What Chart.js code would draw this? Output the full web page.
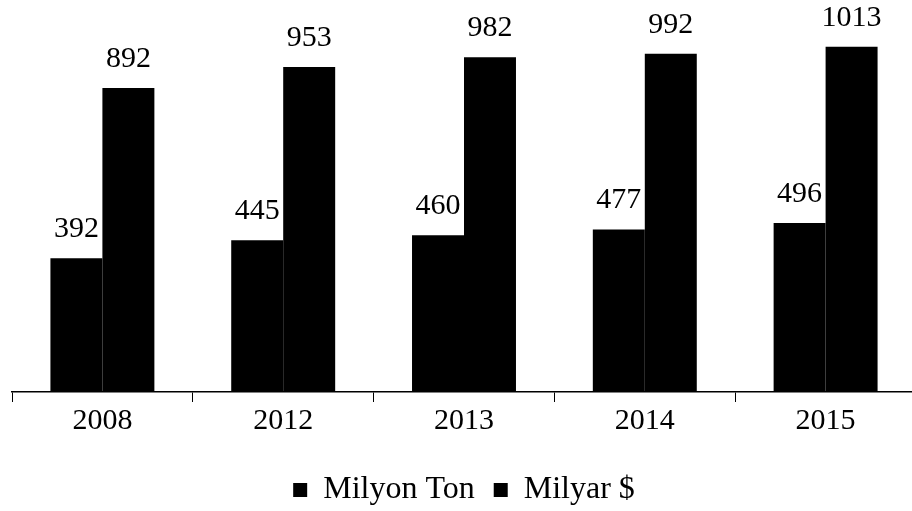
<!DOCTYPE html>
<html>
<head>
<meta charset="utf-8">
<script src="https://cdn.jsdelivr.net/npm/chart.js@4/dist/chart.umd.min.js"></script>
<style>
  html, body { margin: 0; padding: 0; background: #fff; overflow: hidden; }
  #wrap { width: 930px; height: 511px; }
</style>
</head>
<body>
<div id="wrap"><canvas id="c"></canvas></div>
<script>
const categories = ["2008", "2012", "2013", "2014", "2015"];
const milyonTon = [392, 445, 460, 477, 496];
const milyarDolar = [892, 953, 982, 992, 1013];
const seriesNames = ["Milyon Ton", "Milyar $"];

const FONT = "'Liberation Serif', 'Times New Roman', serif";

const valueLabels = {
  id: 'valueLabels',
  afterDatasetsDraw(chart) {
    const ctx = chart.ctx;
    ctx.save();
    ctx.font = "30px " + FONT;
    ctx.fillStyle = "#000";
    ctx.textAlign = "center";
    ctx.textBaseline = "alphabetic";
    chart.data.datasets.forEach((ds, i) => {
      const meta = chart.getDatasetMeta(i);
      meta.data.forEach((bar, j) => {
        ctx.fillText(String(ds.data[j]), bar.x, bar.y - 21);
      });
    });
    ctx.restore();
  }
};

new Chart(document.getElementById('c'), {
  type: 'bar',
  data: {
    labels: categories,
    datasets: [
      { label: seriesNames[0], data: milyonTon, backgroundColor: '#000', borderWidth: 0 },
      { label: seriesNames[1], data: milyarDolar, backgroundColor: '#000', borderWidth: 0 }
    ]
  },
  options: {
    responsive: true,
    maintainAspectRatio: false,
    animation: false,
    layout: { padding: { left: 12, right: 14, top: 17, bottom: -5 } },
    datasets: { bar: { categoryPercentage: 0.575, barPercentage: 1.0 } },
    scales: {
      x: {
        grid: { offset: true, drawOnChartArea: false, drawTicks: true, tickLength: 10, color: '#000', lineWidth: 1 },
        border: { display: true, color: '#000', width: 1.5 },
        ticks: { color: '#000', font: { family: FONT, size: 30 }, padding: 1, maxRotation: 0 },
        afterFit(scale) { scale.height += 15; }
      },
      y: {
        display: false,
        min: 0, max: 1100
      }
    },
    plugins: {
      legend: {
        position: 'bottom',
        labels: {
          color: '#000',
          font: { family: FONT, size: 32 },
          boxWidth: 14, boxHeight: 14,
          padding: 19
        }
      },
      tooltip: { enabled: false }
    }
  },
  plugins: [valueLabels]
});
</script>
</body>
</html>
